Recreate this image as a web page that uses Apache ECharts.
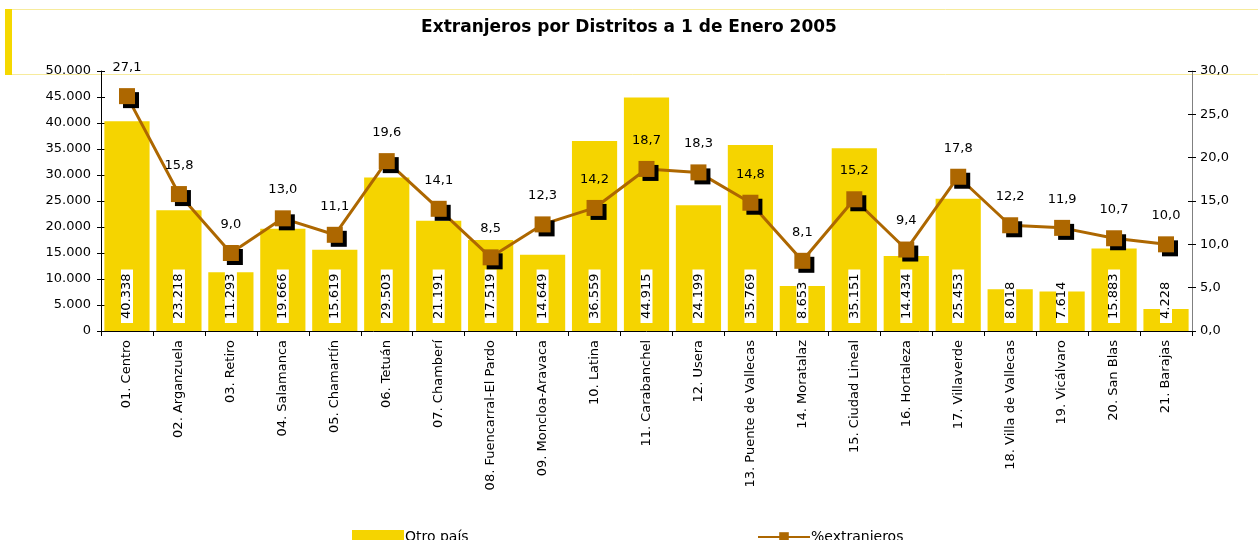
<!DOCTYPE html>
<html>
<head>
<meta charset="utf-8">
<script src="https://cdn.jsdelivr.net/npm/echarts@6/dist/echarts.min.js"></script>
<style>
	html, body { margin: 0; padding: 0; background: #fff; }
	#chart { width: 1258px; height: 540px; }
</style>
</head>
<body>
<div id="chart"></div>
<script>
	var distritos = [
		"01. Centro", "02. Arganzuela", "03. Retiro", "04. Salamanca", "05. Chamartín",
		"06. Tetuán", "07. Chamberí", "08. Fuencarral-El Pardo", "09. Moncloa-Aravaca",
		"10. Latina", "11. Carabanchel", "12. Usera", "13. Puente de Vallecas",
		"14. Moratalaz", "15. Ciudad Lineal", "16. Hortaleza", "17. Villaverde",
		"18. Villa de Vallecas", "19. Vicálvaro", "20. San Blas", "21. Barajas"
	];
	var otroPais = [
		40338, 23218, 11293, 19666, 15619, 29503, 21191, 17519, 14649, 36559, 44915,
		24199, 35769, 8653, 35151, 14434, 25453, 8018, 7614, 15883, 4228
	];
	var pctExtranjeros = [
		27.1, 15.8, 9.0, 13.0, 11.1, 19.6, 14.1, 8.5, 12.3, 14.2, 18.7,
		18.3, 14.8, 8.1, 15.2, 9.4, 17.8, 12.2, 11.9, 10.7, 10.0
	];

	var FONT = "DejaVu Sans";
	var AMARILLO = "#F5D400";
	var MARRON = "#AD6700";

	function miles(v) {
		return String(v).replace(/\B(?=(\d{3})+(?!\d))/g, ".");
	}
	function decimal(v) {
		return Number(v).toFixed(1).replace(".", ",");
	}

	var chart = echarts.init(document.getElementById("chart"));

	chart.setOption({
		animation: false,
		backgroundColor: "#fff",
		title: {
			text: "Extranjeros por Distritos a 1 de Enero 2005",
			left: "center",
			top: 14,
			textStyle: { fontFamily: FONT, fontSize: 17, fontWeight: "bold", color: "#000" }
		},
		graphic: [
			{
				// marco del título
				type: "rect",
				shape: { x: 5.5, y: 9.5, width: 1270, height: 65 },
				style: { fill: "none", stroke: "#F7EB9C", lineWidth: 1 },
				silent: true,
				z: -1
			},
			{
				type: "rect",
				shape: { x: 5, y: 9, width: 7, height: 66 },
				style: { fill: "#F5D800" },
				silent: true,
				z: -1
			}
		],
		legend: [
			{
				data: [{ name: "Otro país", icon: "rect" }],
				left: 347,
				top: 525,
				itemWidth: 52,
				itemHeight: 14,
				textStyle: { fontFamily: FONT, fontSize: 14, color: "#000", padding: [0, 0, 0, -4] }
			},
			{
				data: ["%extranjeros"],
				left: 752,
				top: 525,
				itemWidth: 52,
				itemHeight: 12,
				itemStyle: { shadowColor: "transparent", shadowOffsetX: 0, shadowOffsetY: 0 },
				textStyle: { fontFamily: FONT, fontSize: 14, color: "#000", padding: [0, 0, 0, -4] }
			}
		],
		grid: { left: 101, right: 66, top: 71, bottom: 209 },
		xAxis: {
			type: "category",
			data: distritos,
			axisLine: { lineStyle: { color: "#000", width: 1 } },
			axisTick: { show: true, length: 5, lineStyle: { color: "#000" } },
			axisLabel: {
				rotate: 90,
				interval: 0,
				margin: 9,
				fontFamily: FONT,
				fontSize: 13,
				color: "#000"
			},
			splitLine: { show: false }
		},
		yAxis: [
			{
				type: "value",
				min: 0,
				max: 50000,
				interval: 5000,
				position: "left",
				axisLine: { show: true, lineStyle: { color: "#000" } },
				axisTick: { show: true, length: 4, lineStyle: { color: "#000" } },
				axisLabel: {
					margin: 10,
					fontFamily: FONT,
					fontSize: 13,
					color: "#000",
					formatter: miles
				},
				splitLine: { show: false }
			},
			{
				type: "value",
				min: 0,
				max: 30,
				interval: 5,
				position: "right",
				axisLine: { show: true, lineStyle: { color: "#808080" } },
				axisTick: { show: true, length: 4, lineStyle: { color: "#000" } },
				axisLabel: {
					margin: 8,
					fontFamily: FONT,
					fontSize: 13,
					color: "#000",
					formatter: decimal
				},
				splitLine: { show: false }
			},
			{
				// marcas interiores del eje izquierdo
				type: "value",
				min: 0,
				max: 50000,
				interval: 5000,
				position: "left",
				axisLine: { show: false },
				axisTick: { show: true, inside: true, length: 4, lineStyle: { color: "#000" } },
				axisLabel: { show: false },
				splitLine: { show: false }
			},
			{
				// marcas interiores del eje derecho
				type: "value",
				min: 0,
				max: 30,
				interval: 5,
				position: "right",
				axisLine: { show: false },
				axisTick: { show: true, inside: true, length: 4, lineStyle: { color: "#000" } },
				axisLabel: { show: false },
				splitLine: { show: false }
			}
		],
		series: [
			{
				name: "Otro país",
				type: "bar",
				yAxisIndex: 0,
				data: otroPais,
				barCategoryGap: "13%",
				itemStyle: { color: AMARILLO },
				label: {
					show: true,
					position: "insideBottom",
					distance: 8,
					rotate: 90,
					align: "left",
					verticalAlign: "middle",
					fontFamily: FONT,
					fontSize: 13,
					lineHeight: 12,
					color: "#000",
					backgroundColor: "#fff",
					padding: [0, 4, 0, 4],
					formatter: function (p) { return miles(p.value); }
				}
			},
			{
				name: "%extranjeros",
				type: "line",
				yAxisIndex: 1,
				data: pctExtranjeros,
				z: 5,
				symbol: "rect",
				symbolSize: 16,
				lineStyle: { color: MARRON, width: 3 },
				itemStyle: {
					color: MARRON,
					shadowColor: "#000",
					shadowBlur: 0,
					shadowOffsetX: 4,
					shadowOffsetY: 4
				},
				label: {
					show: true,
					position: "top",
					distance: 14,
					fontFamily: FONT,
					fontSize: 13,
					color: "#000",
					formatter: function (p) { return decimal(p.value); }
				}
			}
		]
	});
</script>
</body>
</html>
